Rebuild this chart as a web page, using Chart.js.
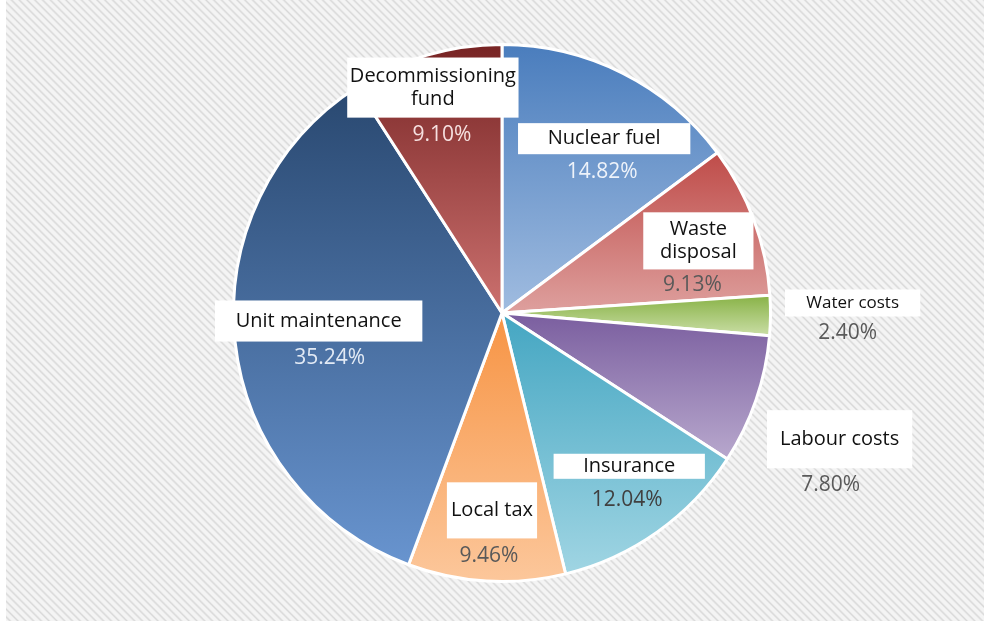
<!DOCTYPE html>
<html>
<head>
<meta charset="utf-8">
<script src="https://cdn.jsdelivr.net/npm/chart.js@4"></script>
<style>
  html, body { margin: 0; padding: 0; background: #fff; }
  #hatch {
    position: absolute; left: 6px; top: 0; width: 978px; height: 621px;
    background: repeating-linear-gradient(45deg, #f4f4f4 0px, #f4f4f4 1.5px, #d8d8d8 3px, #f4f4f4 4.5px, #f4f4f4 5.5px);
  }
  #grafico { position: absolute; left: 0; top: 0; }
</style>
</head>
<body>
<div id="hatch"></div>
<canvas id="grafico" width="984" height="621"></canvas>
<script>
// custos de operação por categoria (%)
const categories = ['Nuclear fuel', 'Waste disposal', 'Water costs', 'Labour costs', 'Insurance', 'Local tax', 'Unit maintenance', 'Decommissioning fund'];
const shares = [14.82, 9.13, 2.40, 7.80, 12.04, 9.46, 35.24, 9.10];
const labelLines = [['Nuclear fuel'], ['Waste', 'disposal'], ['Water costs'], ['Labour costs'], ['Insurance'], ['Local tax'], ['Unit maintenance'], ['Decommissioning', 'fund']];

// cores do degradê (topo -> base de cada fatia)
const topColors = ['#4a7dbd', '#bf4c49', '#88b246', '#7a5e9f', '#44a6c2', '#f79444', '#294870', '#772424'];
const bottomColors = ['#a0bce0', '#dea09e', '#cadea6', '#b8a8cd', '#a0d5e3', '#fcc79b', '#6894cf', '#cc716f'];

// posição das caixinhas de rótulo, em px relativos ao centro (raio de referência 268)
const boxLayout = [
  { x: 102, y: -174, w: 172, h: 31, px: 100, py: -141, pct: '#eef3fa', size: 20 },
  { x: 196, y: -72, w: 110, h: 57, px: 190, py: -28, pct: '#595959', size: 20 },
  { x: 350, y: -10, w: 135, h: 27, px: 345, py: 20, pct: '#595959', size: 17 },
  { x: 337, y: 126, w: 145, h: 58, px: 328, py: 172, pct: '#595959', size: 20 },
  { x: 127, y: 153, w: 151, h: 25, px: 125, py: 187, pct: '#404040', size: 20 },
  { x: -10, y: 197, w: 90, h: 56, px: -13, py: 243, pct: '#595959', size: 20 },
  { x: -183, y: 8, w: 207, h: 41, px: -172, py: 45, pct: '#e2eaf5', size: 20 },
  { x: -69, y: -225, w: 171, h: 60, px: -60, py: -178, pct: '#f6e0e0', size: 20 }
];

const FONTE = '"Open Sans", "Noto Sans", sans-serif';

//degradê vertical em cada fatia
const sliceGradient = {
  id: 'sliceGradient',
  beforeDatasetsDraw(chart) {
    const ctx = chart.ctx;
    chart.getDatasetMeta(0).data.forEach((arc, i) => {
      const { x, y, startAngle, endAngle, outerRadius } =
        arc.getProps(['x', 'y', 'startAngle', 'endAngle', 'outerRadius'], true);
      const ys = [y, y + outerRadius * Math.sin(startAngle), y + outerRadius * Math.sin(endAngle)];
      [-Math.PI / 2, Math.PI / 2, 3 * Math.PI / 2].forEach(a => {
        if (a > startAngle && a < endAngle) ys.push(y + outerRadius * Math.sin(a));
      });
      const g = ctx.createLinearGradient(0, Math.min(...ys), 0, Math.max(...ys));
      g.addColorStop(0, topColors[i]);
      g.addColorStop(1, bottomColors[i]);
      arc.options.backgroundColor = g;
    });
  }
};

//rótulos com fundo branco + percentual
const boxLabels = {
  id: 'boxLabels',
  afterDatasetsDraw(chart) {
    const ctx = chart.ctx;
    const meta = chart.getDatasetMeta(0);
    const { x: cx, y: cy, outerRadius } = meta.data[0].getProps(['x', 'y', 'outerRadius'], true);
    const k = outerRadius / 268;
    ctx.save();
    ctx.textAlign = 'center';
    ctx.textBaseline = 'middle';
    boxLayout.forEach((b, i) => {
      const bx = cx + b.x * k, by = cy + b.y * k;
      ctx.fillStyle = '#fff';
      ctx.fillRect(bx - b.w * k / 2, by - b.h * k / 2, b.w * k, b.h * k);

      const lines = labelLines[i];
      const lh = 23 * k;
      ctx.fillStyle = '#111';
      ctx.font = `${b.size}px ${FONTE}`;
      lines.forEach((t, j) => {
        ctx.fillText(t, bx, by + (j - (lines.length - 1) / 2) * lh);
      });

      ctx.fillStyle = b.pct;
      ctx.font = `21px ${FONTE}`;
      ctx.fillText(shares[i].toFixed(2) + '%', cx + b.px * k, cy + b.py * k);
    });
    ctx.restore();
  }
};

const ctx = document.getElementById('grafico').getContext('2d');
const chartCustos = new Chart(ctx, {
  type: 'pie',
  data: {
    labels: categories,
    datasets: [{
      label: 'Operating costs (%)',
      data: shares,
      backgroundColor: topColors,
      borderColor: '#fff',
      borderWidth: 3
    }]
  },
  options: {
    responsive: false,
    animation: false,
    layout: { padding: { top: 43, bottom: 38, left: 20, right: 0 } },
    plugins: {
      legend: { display: false },
      tooltip: { enabled: false }
    }
  },
  plugins: [sliceGradient, boxLabels]
});
</script>
</body>
</html>
